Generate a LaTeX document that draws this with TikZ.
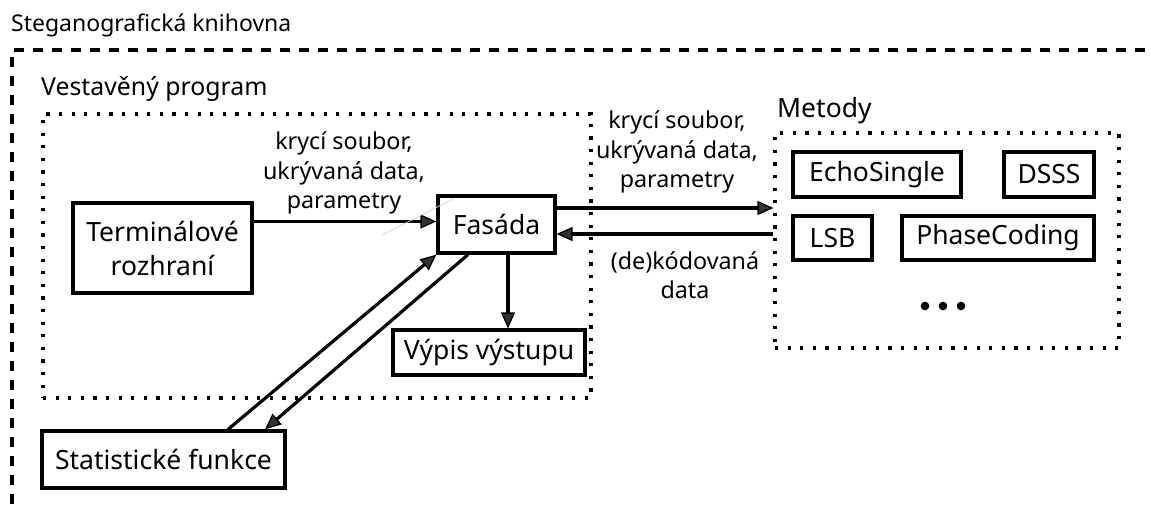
\documentclass[tikz,border=0pt]{standalone}
\usepackage{fontspec}
\setmainfont{Noto Sans}
\usetikzlibrary{arrows.meta,calc}
\begin{document}
\begin{tikzpicture}[x=1pt,y=-1pt,
  box/.style={draw, line width=3.2pt, inner sep=0pt, align=center,
    font=\fontsize{26.5}{34}\selectfont},
  region/.style={draw, line width=3.2pt, dash pattern=on 3.2pt off 9.4pt, inner sep=0pt},
  arr/.style={line width=3.2pt,
    -{Triangle[length=16pt,width=14pt,line width=1.4pt,fill=gray!40!black]}},
  lbl/.style={align=center, inner sep=0pt, font=\fontsize{23.3}{29.5}\selectfont},
  ttl/.style={anchor=base west, inner sep=0pt, font=\fontsize{23}{28}\selectfont}]
\useasboundingbox (0,0) rectangle (1151,504);

% outer library frame (only top and left edges visible)
\draw[line width=3.2pt, dash pattern=on 10pt off 9pt] (12,504) -- (12,50) -- (1151,50);
\node[ttl] (libtitle) at (11,31) {Steganografická knihovna};

% embedded program region
\node[region, minimum width=548pt, minimum height=284pt] (prog) at (317,256) {};
\node[ttl, font=\fontsize{24.8}{30}\selectfont] (progtitle) at (41,95) {Vestavěný program};

% methods region
\node[region, minimum width=344pt, minimum height=215pt] (metody) at (947,240.5) {};
\node[ttl, font=\fontsize{26.5}{32}\selectfont] (metodytitle) at (777,117) {Metody};

% components
\node[box, minimum width=179pt, minimum height=90pt] (term) at (162.5,248) {Terminálové\\rozhraní};
\node[box, minimum width=117pt, minimum height=57pt] (fasada) at (496.5,224.5) {Fasáda};
\node[box, minimum width=192pt, minimum height=45pt] (vypis) at (489,352.5) {Výpis výstupu};
\node[box, minimum width=243pt, minimum height=57pt] (stat) at (163.5,459.5) {Statistické funkce};

% methods
\node[box, minimum width=168pt, minimum height=45pt] (echo) at (877,174.5) {EchoSingle};
\node[box, minimum width=90pt, minimum height=45pt] (dsss) at (1049,174.5) {DSSS};
\node[box, minimum width=79pt, minimum height=44pt] (lsb) at (832.5,238) {LSB};
\node[box, minimum width=192pt, minimum height=44pt] (phase) at (998,238) {PhaseCoding};
\fill (925,306) circle (4.3pt) (943,306) circle (4.3pt) (961,306) circle (4.3pt);

% terminal -> facade
\coordinate (fin) at ([yshift=3pt]fasada.west);
\draw[arr] (term.east |- fin) -- (fin);
\node[lbl] (lab1) at (344,173) {krycí soubor,\\ukrývaná data,\\parametry};
\coordinate (g1) at (382,235);
\coordinate (g2) at (455,198);
\draw[gray!35, line width=0.7pt] (g1) -- (g2);

% facade <-> methods
\coordinate (fout) at ([yshift=16.5pt]fasada.east);
\coordinate (fret) at ([yshift=-9.5pt]fasada.east);
\draw[arr] (fout) -- (fout -| metody.west);
\draw[arr] (fret -| metody.west) -- (fret);
\node[lbl] (lab2) at (677,152) {krycí soubor,\\ukrývaná data,\\parametry};
\node[lbl] (lab3) at (685,275) {(de)kódovaná\\data};

% facade -> output
\coordinate (fdn) at ([xshift=11.5pt]fasada.south);
\draw[arr] (fdn) -- (fdn |- vypis.north);

% facade <-> statistics
\coordinate (sup1) at ([xshift=64.5pt]stat.north);
\draw[arr] (sup1) -- (fasada.south west);
\coordinate (fdn2) at ([xshift=-28.5pt]fasada.south);
\coordinate (sdn) at ([xshift=101.5pt]stat.north);
\draw[arr] (fdn2) -- (sdn);
\end{tikzpicture}
\end{document}
